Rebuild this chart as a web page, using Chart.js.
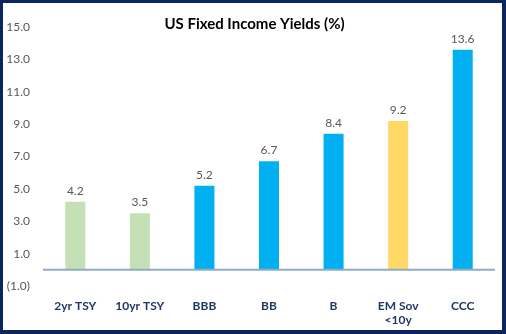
<!DOCTYPE html>
<html>
<head>
<meta charset="utf-8">
<script src="https://cdn.jsdelivr.net/npm/chart.js@4.4.1/dist/chart.umd.min.js"></script>
<style>
  html, body { margin: 0; padding: 0; background: #ffffff; }
  #frame {
    position: absolute; left: 0; top: 0;
    width: 499px; height: 327px;
    border-style: solid;
    border-color: #0b2560;
    border-width: 3px 4px 4px 3px;
    background: #ffffff;
  }
  canvas { display: block; }
</style>
</head>
<body>
<div id="frame"><canvas id="yields" width="499" height="327"></canvas></div>
<script>
// categories and values
const categories = ['2yr TSY', '10yr TSY', 'BBB', 'BB', 'B', ['EM Sov', '<10y'], 'CCC'];
const yields = [4.2, 3.5, 5.2, 6.7, 8.4, 9.2, 13.6];
const barColors = ['#c5e0b4', '#c5e0b4', '#00b0f0', '#00b0f0', '#00b0f0', '#ffd966', '#00b0f0'];
const chartTitle = 'US Fixed Income Yields (%)';

const fontFamily = 'Lato, "Open Sans", sans-serif';

// zero line, value labels and title
const extras = {
  id: 'extras',
  afterDatasetsDraw(chart) {
    const ctx = chart.ctx;
    const y = chart.scales.y;
    const y0 = y.getPixelForValue(0);
    ctx.save();
    ctx.strokeStyle = '#8faac8';
    ctx.lineWidth = 2;
    ctx.beginPath();
    ctx.moveTo(chart.chartArea.left, y0);
    ctx.lineTo(chart.chartArea.right, y0);
    ctx.stroke();

    ctx.fillStyle = '#595959';
    ctx.font = '12px ' + fontFamily;
    ctx.textAlign = 'center';
    ctx.textBaseline = 'bottom';
    chart.getDatasetMeta(0).data.forEach((bar, i) => {
      ctx.fillText(yields[i].toFixed(1), bar.x, bar.y - 5);
    });

    ctx.fillStyle = '#000000';
    ctx.font = 'bold 15px ' + fontFamily;
    ctx.textBaseline = 'middle';
    ctx.fillText(chartTitle, chart.width / 2 + 2, 21);
    ctx.restore();
  }
};

new Chart(document.getElementById('yields'), {
  type: 'bar',
  data: {
    labels: categories,
    datasets: [{
      data: yields,
      backgroundColor: barColors,
      borderWidth: 0,
      barPercentage: 0.62,
      categoryPercentage: 0.5
    }]
  },
  options: {
    responsive: false,
    animation: false,
    layout: { padding: { top: 24, right: 7, left: 0, bottom: 0 } },
    plugins: {
      legend: { display: false },
      tooltip: { enabled: false }
    },
    scales: {
      x: {
        grid: { display: false, drawTicks: false },
        border: { display: false },
        afterFit(scale) { scale.height = 44; },
        ticks: {
          color: '#1f3864',
          font: { family: fontFamily, size: 12, weight: 'bold' },
          padding: 13,
          maxRotation: 0
        }
      },
      y: {
        min: -1,
        max: 15,
        grid: { display: false, drawTicks: false },
        border: { display: false },
        afterFit(scale) { scale.width = 40; },
        ticks: {
          stepSize: 2,
          color: '#595959',
          padding: 13,
          font: { family: fontFamily, size: 12 },
          callback: function(value) {
            return value < 0 ? '(' + Math.abs(value).toFixed(1) + ')' : value.toFixed(1);
          }
        }
      }
    }
  },
  plugins: [extras]
});
</script>
</body>
</html>
